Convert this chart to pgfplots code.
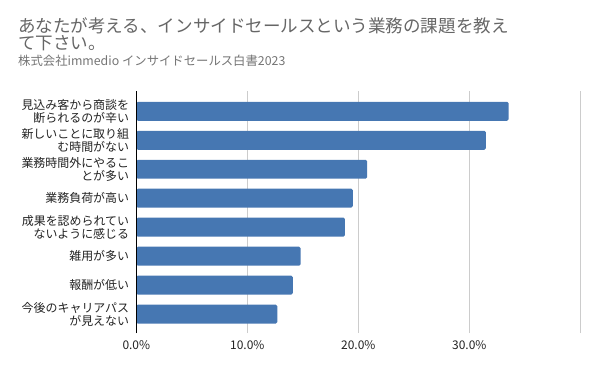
\documentclass[border=0pt]{standalone}
\usepackage{fontspec}
\setmainfont{Noto Sans CJK JP}
\usepackage{pgfplots}
\pgfplotsset{compat=1.18}
\definecolor{barblue}{RGB}{70,119,178}
\definecolor{titlegray}{RGB}{102,102,102}
\definecolor{subgray}{RGB}{117,117,117}
\definecolor{gridgray}{RGB}{204,204,204}
\begin{document}
\begin{tikzpicture}[x=1bp,y=1bp]
\path[use as bounding box] (0,0) rectangle (596,367);
\node[anchor=base west, inner sep=0pt, font=\fontsize{17.6}{20}\selectfont, text=titlegray] at (18,335) {あなたが考える、インサイドセールスという業務の課題を教え};
\node[anchor=base west, inner sep=0pt, font=\fontsize{17.6}{20}\selectfont, text=titlegray] at (18,317.5) {て下さい。};
\node[anchor=base west, inner sep=0pt, font=\fontsize{12.4}{15}\selectfont, text=subgray] at (18,302) {株式会社immedio インサイドセールス白書2023};
\begin{axis}[
  at={(136.3bp,34bp)}, anchor=south west,
  width=444bp, height=242bp, scale only axis,
  xbar, bar width=0.655,
  xmin=0, xmax=40,
  ymin=-0.65, ymax=7.7,
  xtick={0,10,20,30,40},
  xticklabels={0.0\%,10.0\%,20.0\%,30.0\%,{}},
  ytick={0,1,2,3,4,5,6,7},
  yticklabels={{今後のキャリアパス\\が見えない},{報酬が低い},{雑用が多い},{成果を認められてい\\ないように感じる},{業務負荷が高い},{業務時間外にやるこ\\とが多い},{新しいことに取り組\\む時間がない},{見込み客から商談を\\断られるのが辛い}},
  yticklabel style={align=right, inner sep=0pt, xshift=-7bp, font=\fontsize{12}{13}\selectfont, text={rgb,255:red,34;green,34;blue,34}},
  xticklabel style={inner sep=0pt, yshift=-7bp, font=\fontsize{12}{14}\selectfont, text={rgb,255:red,34;green,34;blue,34}},
  major tick length=0pt,
  xmajorgrids, grid style={gridgray, line width=0.8bp},
  axis lines*=left,
  axis line style={draw=none},
  clip=false,
]
\addplot[fill=barblue, draw=none, rounded corners=1.5bp] coordinates {
(12.7,0) (14.1,1) (14.8,2) (18.8,3) (19.5,4) (20.8,5) (31.5,6) (33.55,7)};
\draw[black, line width=0.9bp] (axis cs:0,-0.65) -- (axis cs:0,7.7);
\end{axis}
\end{tikzpicture}
\end{document}
